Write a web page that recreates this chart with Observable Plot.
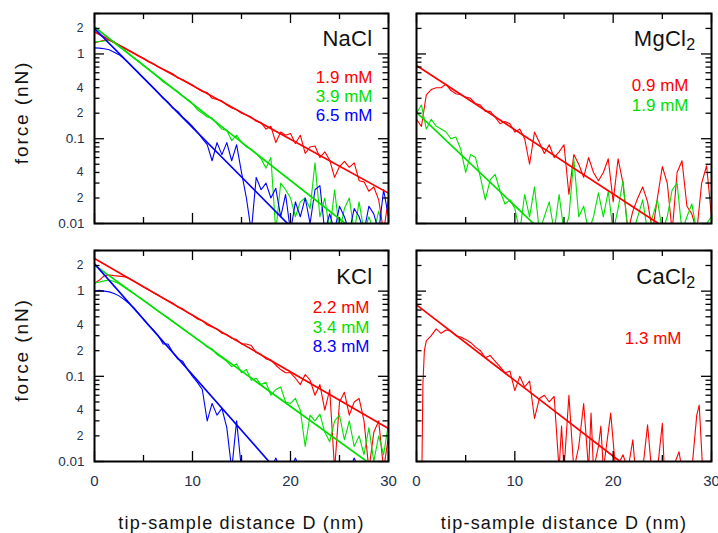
<!DOCTYPE html>
<html><head><meta charset="utf-8">
<script src="https://cdn.jsdelivr.net/npm/d3@7"></script>
<script src="https://cdn.jsdelivr.net/npm/@observablehq/plot@0.6"></script>
<style>
body{margin:0;background:#fff;}
#chart{position:relative;width:718px;height:533px;overflow:hidden;background:#fff;}
#chart svg{position:absolute;overflow:visible;}
</style></head><body><div id="chart"></div>
<script>
// ---------- data ----------
const distance = [0,0.5,1,1.5,2,2.5,3,3.5,4,4.5,5,5.5,6,6.5,7,7.5,8,8.5,9,9.5,10,10.5,11,11.5,12,12.5,13,13.5,14,14.5,15,15.5,16,16.5,17,17.5,18,18.5,19,19.5,20,20.5,21,21.5,22,22.5,23,23.5,24,24.5,25,25.5,26,26.5,27,27.5,28,28.5,29,29.5,30];

// NaCl
const nacl19 = [1.35,1.40,1.45,1.47,1.38,1.28,1.19,1.10,1.03,0.95,
0.89,0.81,0.77,0.70,0.66,0.62,0.58,0.52,0.50,0.46,
0.43,0.39,0.36,0.35,0.30,0.29,0.28,0.25,0.23,0.22,
0.20,0.19,0.18,0.16,0.155,0.13,0.14,0.09,0.12,0.11,
0.115,0.088,0.11,0.067,0.08,0.082,0.06,0.07,0.056,0.035,
0.047,0.054,0.046,0.052,0.032,0.031,0.024,0.027,0.019,0.008,
0.02];
const nacl39 = [1.38,1.40,1.42,1.45,1.36,1.22,1.12,1.00,0.90,0.82,
0.73,0.66,0.59,0.53,0.47,0.43,0.39,0.36,0.32,0.29,
0.26,0.22,0.20,0.18,0.175,0.15,0.13,0.125,0.095,0.11,
0.09,0.08,0.075,0.067,0.058,0.045,0.06,0.008,0.03,0.025,
0.02,0.012,0.018,0.02,0.015,0.052,0.012,0.02,0.008,0.025,
0.008,0.015,0.02,0.008,0.018,0.008,0.012,0.008,0.014,0.008,
0.008];
const nacl65 = [1.18,1.17,1.15,1.12,1.05,0.98,0.88,0.78,0.68,0.60,
0.52,0.46,0.40,0.35,0.30,0.27,0.23,0.21,0.18,0.16,
0.14,0.12,0.10,0.085,0.055,0.09,0.065,0.09,0.055,0.085,
0.04,0.02,0.008,0.035,0.025,0.03,0.02,0.026,0.012,0.022,
0.008,0.018,0.012,0.02,0.01,0.025,0.028,0.008,0.013,0.008,
0.016,0.012,0.008,0.015,0.012,0.008,0.016,0.013,0.008,0.025,
0.012];
const naclFitD = [[0,30],[0,25.6],[0,19.7]];
const naclFitF = [[1.83,0.0228],[2.08,0.01],[1.99,0.01]];
const naclLabels = ["1.9 mM","3.9 mM","6.5 mM"];

// MgCl2
const mgcl09 = [0.17,0.14,0.33,0.38,0.40,0.40,0.44,0.37,0.34,0.33,
0.31,0.30,0.26,0.25,0.21,0.21,0.18,0.15,0.16,0.15,
0.12,0.13,0.10,0.05,0.12,0.09,0.067,0.085,0.06,0.07,
0.085,0.022,0.065,0.05,0.035,0.06,0.04,0.032,0.04,0.058,
0.018,0.058,0.03,0.008,0.014,0.02,0.027,0.018,0.008,0.02,
0.047,0.03,0.008,0.04,0.055,0.016,0.013,0.008,0.03,0.048,
0.012];
const mgcl19 = [0.20,0.25,0.13,0.17,0.14,0.13,0.12,0.10,0.105,0.075,
0.04,0.065,0.06,0.035,0.019,0.033,0.038,0.024,0.017,0.019,
0.015,0.008,0.022,0.012,0.027,0.008,0.012,0.018,0.008,0.022,
0.008,0.012,0.058,0.012,0.016,0.008,0.012,0.023,0.012,0.024,
0.008,0.015,0.032,0.008,0.008,0.012,0.019,0.008,0.012,0.019,
0.008,0.012,0.025,0.03,0.008,0.012,0.017,0.008,0.008,0.01,
0.012];
const mgclFitD = [[0,24.6],[0,11.9]];
const mgclFitF = [[0.73,0.01],[0.205,0.01]];
const mgclLabels = ["0.9 mM","1.9 mM"];

// KCl
const kcl22 = [1.23,1.35,1.52,1.55,1.52,1.50,1.48,1.42,1.32,1.22,
1.12,1.05,0.96,0.90,0.83,0.77,0.72,0.65,0.62,0.56,
0.52,0.47,0.45,0.40,0.38,0.36,0.32,0.31,0.28,0.27,
0.24,0.24,0.23,0.19,0.18,0.16,0.155,0.135,0.12,0.11,
0.11,0.095,0.08,0.105,0.09,0.06,0.08,0.04,0.07,0.008,
0.05,0.065,0.035,0.05,0.055,0.03,0.008,0.022,0.03,0.008,
0.02];
const kcl34 = [1.25,1.28,1.32,1.35,1.30,1.22,1.12,1.02,0.94,0.85,
0.78,0.71,0.64,0.58,0.53,0.49,0.44,0.40,0.36,0.33,
0.30,0.27,0.25,0.22,0.21,0.18,0.165,0.15,0.13,0.14,
0.11,0.12,0.09,0.095,0.08,0.085,0.06,0.07,0.075,0.05,
0.048,0.055,0.04,0.015,0.035,0.03,0.036,0.022,0.017,0.03,
0.035,0.018,0.03,0.015,0.02,0.012,0.025,0.01,0.02,0.012,
0.028];
const kcl83 = [1.00,1.02,1.00,0.98,0.94,0.88,0.80,0.72,0.64,0.55,
0.47,0.40,0.35,0.30,0.24,0.24,0.19,0.16,0.15,0.12,
0.10,0.085,0.07,0.03,0.048,0.035,0.042,0.025,0.008,0.03,
0.008,0.008,0.008,0.008,0.008,0.008,0.008,0.011,0.008,0.008,
0.008,0.011,0.008,0.008,0.008,0.008,0.008,0.008,0.008,0.008,
0.008,0.008,0.008,0.011,0.008,0.008,0.008,0.008,0.008,0.008,
0.008];
const kclFitD = [[0,30],[0,27.8],[0,17.8]];
const kclFitF = [[2.42,0.0244],[2.02,0.01],[2.1,0.01]];
const kclLabels = ["2.2 mM","3.4 mM","8.3 mM"];

// CaCl2
const caclD = [0,0.55,0.65,0.8,1.0,1.5,2.0,2.5,3.0,3.5,4.0,4.5,5.0,5.5,6.0,6.5,7.0,7.5,8.0,8.5,9.0,9.5,10.0,10.5,11.0,11.5,12.0,12.5,13.0,13.5,14.0,14.5,14.75,15.0,15.5,16.0,16.5,17.0,17.5,17.75,18.0,18.5,18.75,19.0,19.75,20.25,21.0,21.5,22.0,22.25,23.0,23.5,23.9,24.5,25.0,25.2,26.0,26.7,27.0,28.0,28.5,28.75,29.1,29.8,30.0];
const cacl13 = [0.008,0.008,0.08,0.2,0.26,0.30,0.36,0.32,0.35,0.34,0.30,0.29,0.27,0.25,0.22,0.20,0.165,0.175,0.15,0.13,0.11,0.115,0.068,0.10,0.075,0.088,0.032,0.055,0.06,0.05,0.058,0.008,0.026,0.008,0.06,0.008,0.015,0.048,0.008,0.037,0.008,0.015,0.026,0.008,0.037,0.008,0.012,0.008,0.018,0.008,0.008,0.027,0.008,0.008,0.028,0.008,0.008,0.013,0.008,0.008,0.035,0.046,0.008,0.008,0.011];
const caclFitD = [[0,20.7]];
const caclFitF = [[0.69,0.01]];
const caclLabels = ["1.3 mM"];

// axes
const yMajorTicks = [0.01,0.1,1];
const yMinorTicks = [0.02,0.03,0.04,0.05,0.06,0.07,0.08,0.09,0.2,0.3,0.4,0.5,0.6,0.7,0.8,0.9,2,3];
const yMajorLabelValues = [0.01,0.1,1];
const yMajorLabelText = ["0.01","0.1","1"];
const yMinorLabelValues = [0.02,0.04,0.2,0.4,2];
const yMinorLabelText = ["2","4","2","4","2"];
const xMajorTicks = [0,10,20,30];
const xMinorTicks = [5,15,25];
const xLabelValues = [0,10,20,30];
const yTitle = "force (nN)";
const xTitle = "tip-sample distance D (nm)";

// ---------- drawing ----------
const RED = "#ff0000", GREEN = "#00e000", BLUE = "#0000ff";
const FONT = '"Liberation Sans", Arial, sans-serif';
const LABEL = "#22304d";

const panels = [
  {title:"NaCl", left:0, top:0, width:400, height:240, margin:[13,12,17,94], yAxis:true, xAxis:false,
   series:[nacl19,nacl39,nacl65].map(F=>({D:distance,F})), fitD:naclFitD, fitF:naclFitF, labels:naclLabels,
   colors:[RED,GREEN,BLUE], legendDx:-16, legendDy:[69,88,107], titleDy:32},
  {title:"MgCl2", left:400, top:0, width:318, height:240, margin:[13,7,17,16], yAxis:false, xAxis:false,
   series:[mgcl09,mgcl19].map(F=>({D:distance,F})), fitD:mgclFitD, fitF:mgclFitF, labels:mgclLabels,
   colors:[RED,GREEN], legendDx:-23, legendDy:[77,97], titleDy:32},
  {title:"KCl", left:0, top:240, width:400, height:293, margin:[10,12,72,94], yAxis:true, xAxis:true,
   series:[kcl22,kcl34,kcl83].map(F=>({D:distance,F})), fitD:kclFitD, fitF:kclFitF, labels:kclLabels,
   colors:[RED,GREEN,BLUE], legendDx:-19, legendDy:[62,82,101], titleDy:33},
  {title:"CaCl2", left:400, top:240, width:318, height:293, margin:[10,7,72,16], yAxis:false, xAxis:true,
   series:[{D:caclD,F:cacl13}], fitD:caclFitD, fitF:caclFitF, labels:caclLabels,
   colors:[RED], legendDx:-30, legendDy:[93], titleDy:33}
];

const chart = document.getElementById("chart");

for (const p of panels) {
  const [mt, mr, mb, ml] = p.margin;
  const fw = p.width - ml - mr, fh = p.height - mt - mb;
  const marks = [];
  p.series.forEach((s, i) => {
    const rows = s.D.map((d, j) => ({D: d, F: s.F[j]}));
    marks.push(Plot.line(rows, {x: "D", y: "F", stroke: p.colors[i], strokeWidth: 1.1, clip: true}));
  });
  p.fitD.forEach((dd, i) => {
    const rows = dd.map((d, j) => ({D: d, F: p.fitF[i][j]}));
    marks.push(Plot.line(rows, {x: "D", y: "F", stroke: p.colors[i], strokeWidth: 1.7, clip: true}));
  });
  // inward ticks on all four sides
  const tk = {stroke: "black", strokeWidth: 1.3};
  marks.push(Plot.tickY(yMajorTicks, {y: d => d, insetRight: fw - 10, ...tk}));
  marks.push(Plot.tickY(yMajorTicks, {y: d => d, insetLeft: fw - 10, ...tk}));
  marks.push(Plot.tickY(yMinorTicks, {y: d => d, insetRight: fw - 5.5, ...tk}));
  marks.push(Plot.tickY(yMinorTicks, {y: d => d, insetLeft: fw - 5.5, ...tk}));
  marks.push(Plot.tickX(xMajorTicks, {x: d => d, insetTop: fh - 10, ...tk}));
  marks.push(Plot.tickX(xMajorTicks, {x: d => d, insetBottom: fh - 10, ...tk}));
  marks.push(Plot.tickX(xMinorTicks, {x: d => d, insetTop: fh - 6, ...tk}));
  marks.push(Plot.tickX(xMinorTicks, {x: d => d, insetBottom: fh - 6, ...tk}));
  marks.push(Plot.frame({stroke: "black", strokeWidth: 2}));
  // title and legend
  marks.push(Plot.text([p.title], {frameAnchor: "top-right", textAnchor: "end", lineAnchor: "bottom",
    dx: -16, dy: p.titleDy, fontSize: 22, fill: "#111"}));
  p.labels.forEach((lab, i) => {
    marks.push(Plot.text([lab], {frameAnchor: "top-right", textAnchor: "end", lineAnchor: "bottom",
      dx: p.legendDx, dy: p.legendDy[i], fontSize: 17, fill: p.colors[i]}));
  });
  if (p.yAxis) {
    marks.push(Plot.text(yMajorLabelValues, {frameAnchor: "left", y: d => d, text: (d, i) => yMajorLabelText[i],
      textAnchor: "end", dx: -10, fontSize: 13.5, fill: LABEL}));
    marks.push(Plot.text(yMinorLabelValues, {frameAnchor: "left", y: d => d, text: (d, i) => yMinorLabelText[i],
      textAnchor: "end", dx: -11, fontSize: 12, fill: LABEL}));
    marks.push(Plot.text([yTitle], {frameAnchor: "left", textAnchor: "middle", rotate: -90, dx: -73, dy: -6,
      fontSize: 19, fill: "#111"}));
  }
  if (p.xAxis) {
    marks.push(Plot.text(xLabelValues, {frameAnchor: "bottom", x: d => d, text: d => String(d),
      textAnchor: "middle", lineAnchor: "bottom", dy: 24, fontSize: 15, fill: LABEL}));
    marks.push(Plot.text([xTitle], {frameAnchor: "bottom", textAnchor: "middle", lineAnchor: "bottom", dy: 67,
      fontSize: 18, fill: "#111"}));
  }
  const svg = Plot.plot({
    width: p.width, height: p.height,
    marginTop: mt, marginRight: mr, marginBottom: mb, marginLeft: ml,
    x: {domain: [0, 30], axis: null},
    y: {type: "log", domain: [0.01, 3], axis: null},
    style: {fontFamily: FONT, background: "transparent", overflow: "visible"},
    marks
  });
  svg.querySelectorAll("text").forEach(t => {
    const s = t.textContent;
    if (s === yTitle) t.style.letterSpacing = "1.9px";
    else if (s === xTitle) t.style.letterSpacing = "1.2px";
    else if (s === p.title) {
      t.style.letterSpacing = "0.3px";
      const m = s.match(/^(.*?)(\d)$/);
      if (m) {
        t.textContent = m[1];
        const ts = document.createElementNS("http://www.w3.org/2000/svg", "tspan");
        ts.setAttribute("dy", "0.3em");
        ts.setAttribute("font-size", "16");
        ts.textContent = m[2];
        t.appendChild(ts);
      }
    }
  });
  svg.style.left = p.left + "px";
  svg.style.top = p.top + "px";
  chart.appendChild(svg);
}
</script>
</body></html>
